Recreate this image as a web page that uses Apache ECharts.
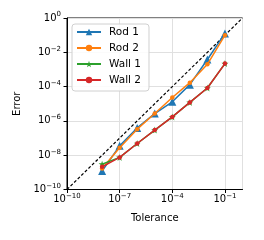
<!DOCTYPE html>
<html><head><meta charset="utf-8">
<script src="https://cdn.jsdelivr.net/npm/echarts@6/dist/echarts.min.js"></script>
<style>html,body{margin:0;padding:0;background:#fff}#c{width:264px;height:240px}</style>
</head><body><div id="c"></div>
<script>
const tolerances = [1e-8, 1e-7, 1e-6, 1e-5, 1e-4, 1e-3, 1e-2, 1e-1];
const rod1 = [1.2e-9, 3.5e-8, 3.9e-7, 2.7e-6, 1.3e-5, 1.3e-4, 3.8e-3, 0.126];
const rod2 = [1.7e-9, 2.7e-8, 3.3e-7, 2.7e-6, 2.3e-5, 1.7e-4, 2.0e-3, 0.1];
const wall1 = [3.0e-9, 7.4e-9, 4.8e-8, 2.9e-7, 1.7e-6, 1.2e-5, 8.3e-5, 2.2e-3];
const wall2 = [2.1e-9, 7.4e-9, 4.8e-8, 2.9e-7, 1.7e-6, 1.2e-5, 8.3e-5, 2.2e-3];
const refLine = [1e-10, 1];
const seriesNames = ['Rod 1', 'Rod 2', 'Wall 1', 'Wall 2'];
const xLabel = 'Tolerance';
const yLabel = 'Error';

const colors = ['#1f77b4', '#ff7f0e', '#2ca02c', '#d62728'];
const starBody = 'M50 0 L61.23 34.55 L97.55 34.55 L68.17 55.9 L79.39 90.45 L50 69.1 L20.61 90.45 L31.83 55.9 L2.45 34.55 L38.77 34.55 Z';
const star = 'path://' + starBody;
const extents = 'M-10 -10 L-9.99 -10 Z M110 110 L109.99 110 Z ';
const starLegend = 'path://' + extents + starBody;
const dotLegend = 'path://' + extents + 'M69 50 L63.4 63.4 L50 69 L36.6 63.4 L31 50 L36.6 36.6 L50 31 L63.4 36.6 Z';
const FONT = 'DejaVu Sans';

function fmt(v) {
  const e = Math.round(Math.log10(v));
  return '{b|10}{s|' + (e < 0 ? '\u2212' + (-e) : e) + '}';
}
const rich = {
  b: {fontSize: 10, fontFamily: FONT, color: '#000', lineHeight: 14},
  s: {fontSize: 7, fontFamily: FONT, color: '#000', lineHeight: 14, padding: [0, 0, 7, 0]}
};
function pairs(vals) { return tolerances.map((t, i) => [t, vals[i]]); }

const chart = echarts.init(document.getElementById('c'), null, {renderer: 'canvas'});
const noBorder = {borderWidth: 0};
const series = [
  {name: '__ref', type: 'line', data: refLine.map(v => [v, v]), symbol: 'none', silent: true,
   lineStyle: {color: '#000', width: 1.2, type: [3, 2]}, z: 1},
  {name: seriesNames[0], type: 'line', data: pairs(rod1), symbol: 'triangle', symbolSize: 8,
   lineStyle: {width: 1.5}, itemStyle: noBorder, z: 2},
  {name: seriesNames[1], type: 'line', data: pairs(rod2), symbol: 'circle', symbolSize: 4.5,
   legendIcon: dotLegend, lineStyle: {width: 1.5}, itemStyle: noBorder, z: 3},
  {name: seriesNames[2], type: 'line', data: pairs(wall1), symbol: star, symbolSize: 7,
   legendIcon: starLegend, lineStyle: {width: 1.5}, itemStyle: noBorder, z: 4},
  {name: seriesNames[3], type: 'line', data: pairs(wall2), symbol: 'circle', symbolSize: 4.5,
   legendIcon: dotLegend, lineStyle: {width: 1.5}, itemStyle: noBorder, z: 5}
];
chart.setOption({
  animation: false,
  color: ['#000'].concat(colors),
  grid: {left: 67, top: 18, width: 175.5, height: 171.5, show: true, borderColor: '#000', borderWidth: 1},
  legend: {
    data: seriesNames,
    orient: 'vertical', left: 72, top: 24,
    itemWidth: 24, itemHeight: 8, itemGap: 4,
    itemStyle: {borderWidth: 0},
    padding: [2, 8, 5, 4],
    backgroundColor: 'rgba(255,255,255,0.85)', borderColor: '#d0d0d0', borderWidth: 1, borderRadius: 3,
    textStyle: {fontFamily: FONT, fontSize: 10.5, lineHeight: 12, color: '#000', padding: [0, 0, 0, 3]}
  },
  xAxis: {
    type: 'log', logBase: 10, min: 1e-10, max: 1, interval: 3,
    name: xLabel, nameLocation: 'middle', nameGap: 24,
    nameTextStyle: {fontFamily: FONT, fontSize: 10, color: '#000'},
    axisLine: {show: true, onZero: false, lineStyle: {color: '#000', width: 1}},
    axisTick: {show: true, inside: false, length: 3.5, lineStyle: {color: '#000'}},
    axisLabel: {formatter: fmt, rich: rich, margin: 3, showMaxLabel: false},
    splitLine: {show: true, lineStyle: {color: '#e0e0e0', width: 1}},
    minorTick: {show: false}
  },
  yAxis: {
    type: 'log', logBase: 10, min: 1e-10, max: 1, interval: 2,
    name: yLabel, nameLocation: 'middle', nameGap: 44, nameRotate: 90,
    nameTextStyle: {fontFamily: FONT, fontSize: 10, color: '#000'},
    axisLine: {show: true, onZero: false, lineStyle: {color: '#000', width: 1}},
    axisTick: {show: true, inside: false, length: 3.5, lineStyle: {color: '#000'}},
    axisLabel: {formatter: fmt, rich: rich, margin: 6},
    splitLine: {show: true, lineStyle: {color: '#e0e0e0', width: 1}}
  },
  series: series
});
</script></body></html>
